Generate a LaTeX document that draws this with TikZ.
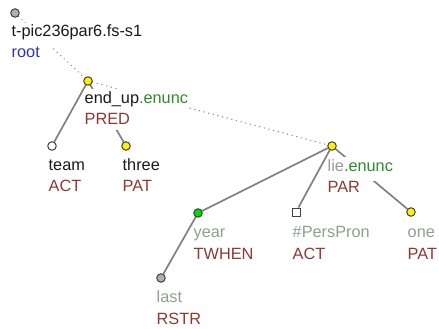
\documentclass[tikz,border=0pt]{standalone}
\usepackage{fontspec}
\newfontfamily\lblfont{Liberation Sans}
\definecolor{txtblack}{HTML}{1A1A1A}
\definecolor{txtgreen}{HTML}{2E8B2E}
\definecolor{txtbrown}{HTML}{8B3A32}
\definecolor{txtblue}{HTML}{3333B0}
\definecolor{txtgray}{HTML}{8FA08F}
\definecolor{edgegray}{HTML}{808080}
\definecolor{dotgray}{HTML}{909090}
\definecolor{ndline}{HTML}{404040}
\definecolor{ndgray}{HTML}{B0B0B0}
\definecolor{ndgreen}{HTML}{00DD00}
\pgfdeclarelayer{bg}
\pgfsetlayers{bg,main}
\tikzset{
	tnode/.style={circle, draw=ndline, line width=1pt, minimum size=8.5pt, inner sep=0pt},
	tsquare/.style={rectangle, draw=ndline, fill=white, line width=1pt, minimum size=8pt, inner sep=0pt},
	lemma/.style={anchor=base west, fill=white, inner xsep=0.5pt, inner ysep=2pt,
		text height=12pt, text depth=8pt, font={\lblfont\fontsize{16.3}{19}\selectfont}},
	functor/.style={anchor=base west, fill=white, inner xsep=0.5pt, inner ysep=2pt,
		text height=12pt, text depth=4pt, text=txtbrown, font={\lblfont\fontsize{16.3}{19}\selectfont}},
	tedge/.style={draw=edgegray, line width=1.7pt},
	cedge/.style={draw=dotgray, line width=1.4pt, line cap=round, dash pattern=on 0.2pt off 4.6pt}
}
\begin{document}
\begin{tikzpicture}[x=1pt, y=-1pt]
	\useasboundingbox (0,0) rectangle (439,329);
	% tree nodes
	\node[tnode, fill=ndgray] (root) at (15,13) {};
	\node[tnode, fill=yellow] (endup) at (88,81) {};
	\node[tnode, fill=white] (team) at (52,146) {};
	\node[tnode, fill=yellow] (three) at (126,146) {};
	\node[tnode, fill=yellow] (lie) at (332,146) {};
	\node[tnode, fill=ndgreen] (year) at (198,213) {};
	\node[tsquare] (perspron) at (296,212) {};
	\node[tnode, fill=yellow] (one) at (411,212) {};
	\node[tnode, fill=ndgray] (last) at (161,278) {};
	% labels
	\node[lemma, text=txtblack] (root-l) at ([shift={(-4,24)}]root) {t-pic236par6.fs-s1};
	\node[functor, text=txtblue] (root-f) at ([shift={(-4,45)}]root) {root};
	\node[lemma] (endup-l) at ([shift={(-4,22)}]endup) {\textcolor{txtblack}{end\_up}\textcolor{txtgreen}{.enunc}};
	\node[functor] (endup-f) at ([shift={(-4,43)}]endup) {PRED};
	\node[lemma, text=txtblack] (team-l) at ([shift={(-4,24)}]team) {team};
	\node[functor] (team-f) at ([shift={(-4,45)}]team) {ACT};
	\node[lemma, text=txtblack] (three-l) at ([shift={(-4,24)}]three) {three};
	\node[functor] (three-f) at ([shift={(-4,45)}]three) {PAT};
	\node[lemma] (lie-l) at ([shift={(-5,25)}]lie) {\textcolor{txtgray}{lie}\textcolor{txtgreen}{.enunc}};
	\node[functor] (lie-f) at ([shift={(-5,46)}]lie) {PAR};
	\node[lemma, text=txtgray] (year-l) at ([shift={(-5,24)}]year) {year};
	\node[functor] (year-f) at ([shift={(-5,46)}]year) {TWHEN};
	\node[lemma, text=txtgray] (perspron-l) at ([shift={(-4,25)}]perspron) {\#PersPron};
	\node[functor] (perspron-f) at ([shift={(-4,47)}]perspron) {ACT};
	\node[lemma, text=txtgray] (one-l) at ([shift={(-4,25)}]one) {one};
	\node[functor] (one-f) at ([shift={(-4,47)}]one) {PAT};
	\node[lemma, text=txtgray] (last-l) at ([shift={(-5,24)}]last) {last};
	\node[functor] (last-f) at ([shift={(-5,46)}]last) {RSTR};
	% edges
	\begin{pgfonlayer}{bg}
		\draw[cedge] (root) -- (endup);
		\draw[cedge] (endup) -- (lie);
		\foreach \c in {team, three}
			\draw[tedge] (endup) -- (\c);
		\foreach \c in {year, perspron, one}
			\draw[tedge] (lie) -- (\c);
		\draw[tedge] (year) -- (last);
	\end{pgfonlayer}
\end{tikzpicture}
\end{document}
